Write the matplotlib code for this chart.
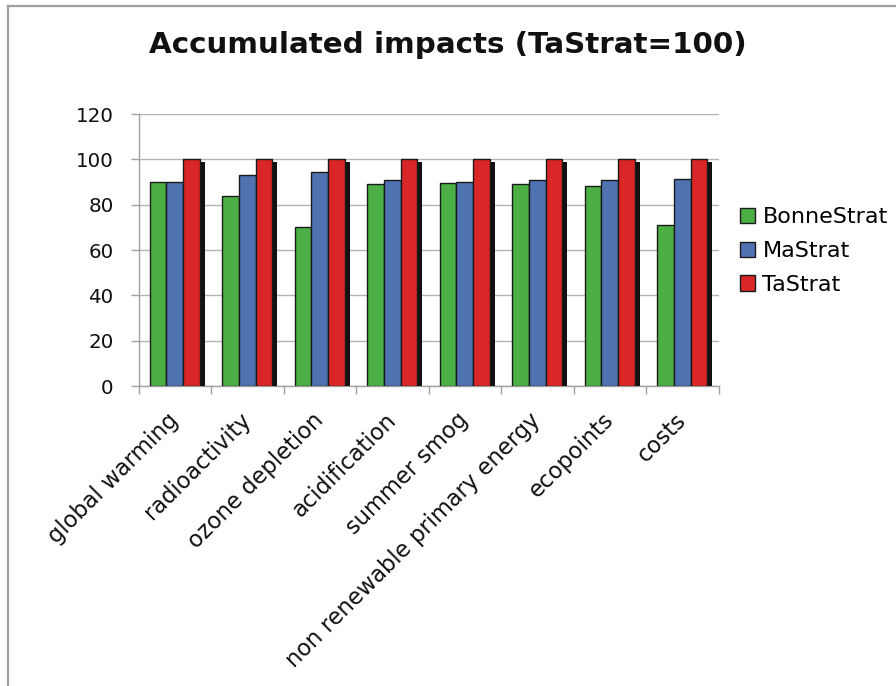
import matplotlib
matplotlib.use("Agg")
import matplotlib.pyplot as plt
import matplotlib.patheffects as pe
import matplotlib.transforms as mtransforms
from matplotlib.lines import Line2D
from matplotlib.patches import Patch
import numpy as np

categories = ["global warming", "radioactivity", "ozone depletion", "acidification",
              "summer smog", "non renewable primary energy", "ecopoints", "costs"]
bonnestrat = [90, 84, 70, 89, 89.5, 89, 88.2, 71]
mastrat = [90, 93.2, 94.4, 90.7, 90, 90.7, 90.7, 91.3]
tastrat = [100, 100, 100, 100, 100, 100, 100, 100]
series_names = ["BonneStrat", "MaStrat", "TaStrat"]
colors = ["#4caf45", "#4f72b0", "#d92626"]
yticks = [0, 20, 40, 60, 80, 100, 120]

plt.rcParams['font.family'] = ['DejaVu Sans']
W, H = 896, 686
fig = plt.figure(figsize=(W / 100, H / 100), dpi=100)
fig.patch.set_facecolor("white")

# outer frame (top and left edges)
fig.add_artist(Line2D([7.5 / W, 7.5 / W], [0, 1 - 5.5 / H], transform=fig.transFigure,
                      color="#a0a0a0", lw=1.6))
fig.add_artist(Line2D([7.5 / W, 1], [1 - 5.5 / H, 1 - 5.5 / H], transform=fig.transFigure,
                      color="#a0a0a0", lw=1.6))

ax = fig.add_axes([138.5 / W, 1 - 386 / H, 580 / W, 272 / H])

x = np.arange(len(categories))
w = 0.228
shadow = [pe.SimplePatchShadow(offset=(3.6, -2.2), shadow_rgbFace="#111111", alpha=1.0),
          pe.Normal()]
for i, (vals, name, c) in enumerate(zip([bonnestrat, mastrat, tastrat], series_names, colors)):
    bars = ax.bar(x + (i - 1) * w, vals, width=w, color=c, edgecolor="#1a1a1a",
                  linewidth=1.0, zorder=3)
    for b in bars:
        b.set_path_effects(shadow)

ax.set_xlim(-0.5, len(categories) - 0.5)
ax.set_ylim(0, 120)
ax.set_yticks(yticks)
ax.set_yticklabels([str(v) for v in yticks])
ax.yaxis.grid(True, color="#b4b4b4", lw=1.0, zorder=0)
ax.set_axisbelow(True)

ax.set_xticks(x)
labels = ax.set_xticklabels(categories, rotation=45, ha="right", va="center",
                            rotation_mode="anchor")
shift = mtransforms.ScaledTranslation(-4 / 100, 0, fig.dpi_scale_trans)
for lab in labels:
    lab.set_transform(lab.get_transform() + shift)
ax.set_xticks(np.arange(-0.5, len(categories)), minor=True)
ax.tick_params(axis="x", which="major", length=0, pad=22, labelsize=16.3, colors="#111111")
ax.tick_params(axis="x", which="minor", length=6, width=1.0, color="#a0a0a0", direction="out")
ax.tick_params(axis="y", length=6, width=1.0, color="#a0a0a0", pad=12, labelsize=14.3,
               labelcolor="#111111")

for s in ["top", "right"]:
    ax.spines[s].set_visible(False)
for s in ["left", "bottom"]:
    ax.spines[s].set_color("#a0a0a0")
    ax.spines[s].set_linewidth(1.0)

fig.text(0.5, 1 - 45 / H, "Accumulated impacts (TaStrat=100)", ha="center", va="center",
         fontsize=21.2, fontweight="bold", color="#111111")

handles = [Patch(facecolor=c, edgecolor="#1a1a1a", linewidth=1.0) for c in colors]
leg = ax.legend(handles, series_names, loc="center left", bbox_to_anchor=(1.021, 0.496),
                frameon=False, fontsize=16, handlelength=0.68, handleheight=0.68,
                handletextpad=0.35, labelspacing=0.62, borderaxespad=0)

fig.savefig("out.png", dpi=100, facecolor="white")
